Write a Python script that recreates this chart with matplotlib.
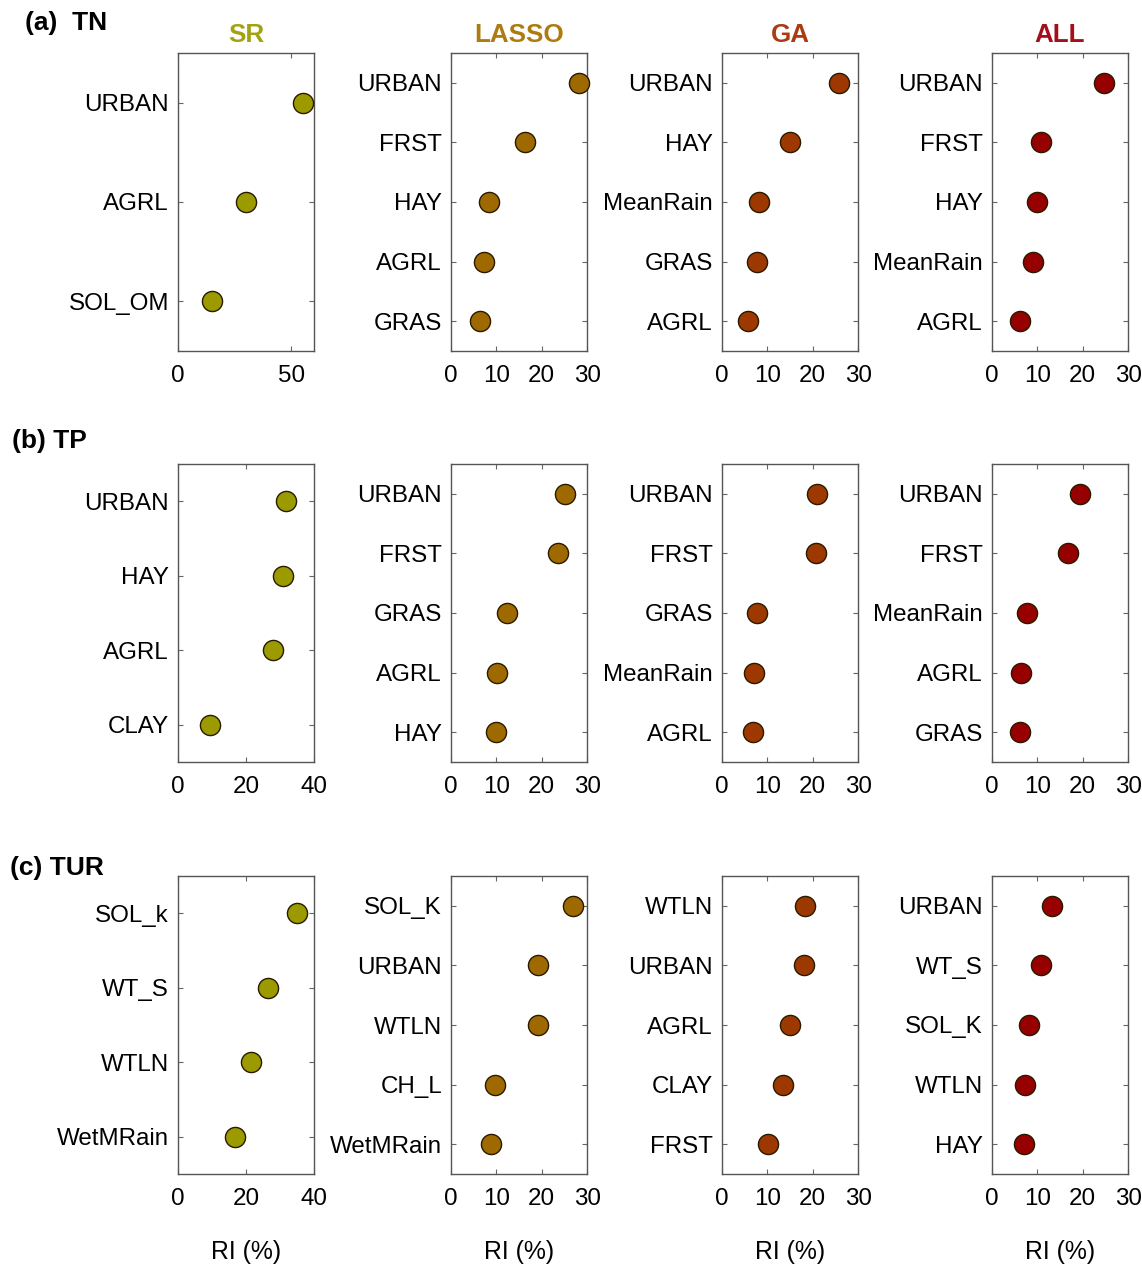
"""
Relative importance (RI) of predictors for TN, TP and TUR by selection method
"""
import matplotlib as mpl
import matplotlib.pyplot as plt

mpl.rcParams['font.family'] = ['Liberation Sans', 'DejaVu Sans']

# ---- data ----
methods = ['SR', 'LASSO', 'GA', 'ALL']
row_titles = ['(a)  TN', '(b) TP', '(c) TUR']

tn_sr_vars = ['URBAN', 'AGRL', 'SOL_OM']
tn_sr_ri = [55.2, 29.8, 14.9]
tn_lasso_vars = ['URBAN', 'FRST', 'HAY', 'AGRL', 'GRAS']
tn_lasso_ri = [28.2, 16.3, 8.4, 7.3, 6.4]
tn_ga_vars = ['URBAN', 'HAY', 'MeanRain', 'GRAS', 'AGRL']
tn_ga_ri = [25.8, 15.0, 8.2, 7.7, 5.7]
tn_all_vars = ['URBAN', 'FRST', 'HAY', 'MeanRain', 'AGRL']
tn_all_ri = [24.7, 10.8, 9.9, 9.0, 6.2]

tp_sr_vars = ['URBAN', 'HAY', 'AGRL', 'CLAY']
tp_sr_ri = [31.8, 31.0, 28.0, 9.3]
tp_lasso_vars = ['URBAN', 'FRST', 'GRAS', 'AGRL', 'HAY']
tp_lasso_ri = [25.1, 23.5, 12.4, 10.2, 10.0]
tp_ga_vars = ['URBAN', 'FRST', 'GRAS', 'MeanRain', 'AGRL']
tp_ga_ri = [21.0, 20.7, 7.7, 7.1, 6.8]
tp_all_vars = ['URBAN', 'FRST', 'MeanRain', 'AGRL', 'GRAS']
tp_all_ri = [19.4, 16.8, 7.7, 6.4, 6.2]

tur_sr_vars = ['SOL_k', 'WT_S', 'WTLN', 'WetMRain']
tur_sr_ri = [35.0, 26.6, 21.6, 16.9]
tur_lasso_vars = ['SOL_K', 'URBAN', 'WTLN', 'CH_L', 'WetMRain']
tur_lasso_ri = [26.9, 19.3, 19.1, 9.8, 8.9]
tur_ga_vars = ['WTLN', 'URBAN', 'AGRL', 'CLAY', 'FRST']
tur_ga_ri = [18.4, 18.0, 14.9, 13.5, 10.2]
tur_all_vars = ['URBAN', 'WT_S', 'SOL_K', 'WTLN', 'HAY']
tur_all_ri = [13.3, 10.9, 8.2, 7.3, 7.1]

sr_xlim = [60, 40, 40]
sr_xticks = [[0, 50], [0, 20, 40], [0, 20, 40]]
other_xticks = [0, 10, 20, 30]

# ---- styling ----
fill_colors = ['#9b9b00', '#9e6a00', '#9c3800', '#960000']
title_colors = ['#a3a312', '#ad7c10', '#ab3b10', '#a3101c']

panels = [
    [(tn_sr_vars, tn_sr_ri), (tn_lasso_vars, tn_lasso_ri),
     (tn_ga_vars, tn_ga_ri), (tn_all_vars, tn_all_ri)],
    [(tp_sr_vars, tp_sr_ri), (tp_lasso_vars, tp_lasso_ri),
     (tp_ga_vars, tp_ga_ri), (tp_all_vars, tp_all_ri)],
    [(tur_sr_vars, tur_sr_ri), (tur_lasso_vars, tur_lasso_ri),
     (tur_ga_vars, tur_ga_ri), (tur_all_vars, tur_all_ri)],
]

W, H = 1142, 1271
fig = plt.figure(figsize=(W / 100, H / 100), dpi=100)

col_left = [178, 451, 722, 992]
col_width = 136
row_top = [53, 464, 876]
row_height = 298

for r in range(3):
    for c in range(4):
        names, vals = panels[r][c]
        n = len(names)
        rect = [col_left[c] / W, 1 - (row_top[r] + row_height) / H,
                col_width / W, row_height / H]
        ax = fig.add_axes(rect)
        ypos = [n - i for i in range(n)]
        ax.plot(vals, ypos, 'o', ms=14.5, mfc=fill_colors[c],
                mec='#2a1a00', mew=1.0, clip_on=False, zorder=3)
        ax.set_ylim(0.5, n + 0.5)
        ax.set_yticks(ypos, labels=names)
        if c == 0:
            ax.set_xlim(0, sr_xlim[r])
            ax.set_xticks(sr_xticks[r])
        else:
            ax.set_xlim(0, 30)
            ax.set_xticks(other_xticks)
        ax.tick_params(direction='in', top=True, right=True, length=3.5,
                       width=0.8, color='#666666', labelsize=17.4)
        ax.tick_params(axis='y', pad=6.5)
        ax.tick_params(axis='x', pad=10)
        for sp in ax.spines.values():
            sp.set_color('#555555')
            sp.set_linewidth(1.0)
        if r == 0:
            ax.set_title(methods[c], color=title_colors[c], fontsize=18.7,
                         fontweight='bold', pad=8)
        if r == 2:
            ax.set_xlabel('RI (%)', fontsize=17.8, labelpad=22)

fig.text(25 / W, 1 - 23 / H, row_titles[0], fontsize=19,
         fontweight='bold', va='center', ha='left')
fig.text(12 / W, 1 - 441 / H, row_titles[1], fontsize=19,
         fontweight='bold', va='center', ha='left')
fig.text(10 / W, 1 - 868 / H, row_titles[2], fontsize=19,
         fontweight='bold', va='center', ha='left')

fig.savefig('out.png', dpi=100)
plt.close('all')
